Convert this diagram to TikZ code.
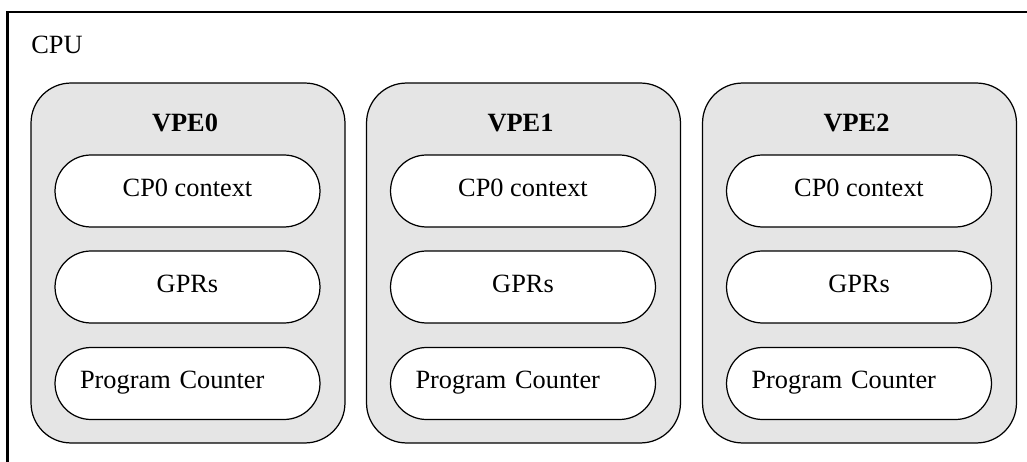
\documentclass[tikz,border=0pt]{standalone}
\usepackage{fontspec}
\setmainfont{Liberation Serif}
\tikzset{
	vpe/.style={draw, fill=black!10, rounded corners=0.8cm, minimum width=6.28cm, minimum height=7.2cm, line width=0.7pt},
	ctx/.style={draw, fill=white, rounded corners=0.72cm, minimum width=5.3cm, minimum height=1.44cm, line width=0.7pt, text height=0.8em, text depth=0.2em},
	pcbox/.style={ctx, text width=4.3cm, align=left},
	title/.style={font=\fontsize{15}{18}\selectfont\bfseries}
}
\begin{document}
\begin{tikzpicture}[x=0.02cm, y=-0.02cm, font=\fontsize{15}{18}\selectfont]
	\useasboundingbox (0,0) rectangle (1027,462);
	\draw[line width=1.5pt] (7.5,462) -- (7.5,12) -- (1027,12);
	\node (cpu) at (57,45) {CPU};
	\node[vpe] (vpe0) at (188,263) {};
	\node[title] (name0) at (185,123) {VPE0};
	\node[ctx] (cp0) at (187.5,191) {CP0 context};
	\node[ctx] (gpr0) at (187.5,287) {GPRs};
	\node[pcbox] (pc0) at (187.5,383.5) {Program Counter};
	\node[vpe] (vpe1) at (523.5,263) {};
	\node[title] (name1) at (520.5,123) {VPE1};
	\node[ctx] (cp1) at (523,191) {CP0 context};
	\node[ctx] (gpr1) at (523,287) {GPRs};
	\node[pcbox] (pc1) at (523,383.5) {Program Counter};
	\node[vpe] (vpe2) at (859.5,263) {};
	\node[title] (name2) at (856.5,123) {VPE2};
	\node[ctx] (cp2) at (859,191) {CP0 context};
	\node[ctx] (gpr2) at (859,287) {GPRs};
	\node[pcbox] (pc2) at (859,383.5) {Program Counter};
\end{tikzpicture}
\end{document}
